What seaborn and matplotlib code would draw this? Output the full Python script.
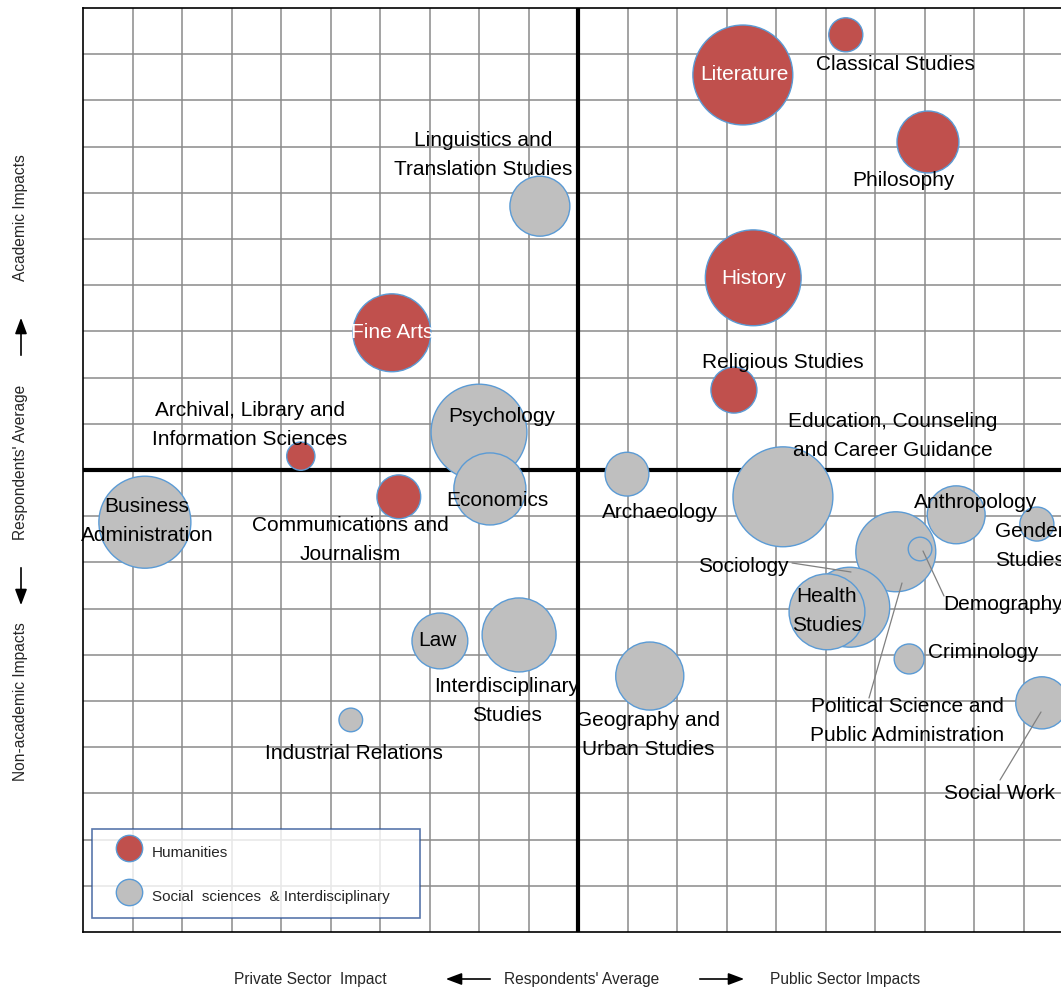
import matplotlib
matplotlib.use("Agg")
import matplotlib.pyplot as plt
from matplotlib.patches import FancyArrowPatch
from matplotlib.lines import Line2D
import seaborn as sns
import pandas as pd

# ---------------- data ----------------
fields = [
    "Literature", "Classical Studies", "Philosophy", "History", "Fine Arts",
    "Religious Studies", "Archival, Library and Information Sciences",
    "Communications and Journalism",
    "Linguistics and Translation Studies", "Psychology", "Economics",
    "Business Administration", "Archaeology",
    "Education, Counseling and Career Guidance", "Anthropology", "Gender Studies",
    "Political Science and Public Administration", "Demography", "Sociology",
    "Health Studies", "Criminology", "Social Work", "Law",
    "Interdisciplinary Studies", "Geography and Urban Studies",
    "Industrial Relations",
]
group = (["Humanities"] * 8) + (["Social sciences  & Interdisciplinary"] * 18)
public_vs_private = [13.33, 15.41, 17.07, 13.54, 6.24, 13.15, 4.40, 6.38,
                     9.23, 8.00, 8.22, 1.25, 10.99, 14.14, 17.64, 19.27,
                     16.42, 16.91, 15.49, 15.03, 16.69, 19.37, 7.21, 8.81,
                     11.45, 5.41]
academic_vs_non = [18.55, 19.42, 17.10, 14.16, 12.97, 11.73, 10.30, 9.42,
                   15.71, 10.82, 9.59, 8.87, 9.91, 9.42, 9.03, 8.83,
                   8.23, 8.29, 7.03, 6.93, 5.91, 4.96, 6.30, 6.43,
                   5.54, 4.59]
weight = [25.0, 2.9, 9.6, 23.0, 15.2, 5.3, 2.0, 4.8,
          9.0, 23.0, 13.0, 21.2, 4.8, 25.0, 8.4, 2.9,
          16.0, 1.4, 16.0, 14.4, 2.25, 6.8, 7.8, 13.7,
          11.6, 1.4]
average = 10.0
x_axis_words = ["Private Sector  Impact", "Respondents' Average", "Public Sector Impacts"]
y_axis_words = ["Academic Impacts", "Respondents' Average", "Non-academic Impacts"]

df = pd.DataFrame({"field": fields, "group": group,
                   "x": public_vs_private, "y": academic_vs_non, "w": weight})

# ---------------- style ----------------
sns.set_style("white")
plt.rcParams["font.family"] = ["Liberation Sans", "DejaVu Sans"]

RED = "#C0504D"
GRAY = "#BFBFBF"
EDGE = "#5B9BD5"
GRID = "#8A8A8A"

W, H = 1061, 988
fig = plt.figure(figsize=(W / 100, H / 100), dpi=100)
ax = fig.add_axes([83 / W, (H - 932) / H, 990 / W, 924 / H])
ax.set_xlim(0, 20)
ax.set_ylim(0, 20)

# grid
for i in range(1, 20):
    ax.axvline(i, color=GRID, lw=1.1, zorder=0)
    ax.axhline(i, color=GRID, lw=1.1, zorder=0)
ax.axvline(average, color="black", lw=3.0, zorder=1)
ax.axhline(average, color="black", lw=3.0, zorder=1)
ax.set_xticks([])
ax.set_yticks([])
for s in ax.spines.values():
    s.set_color("black")
    s.set_linewidth(1.2)

# bubbles: s (pt^2) proportional to weight
k = 207.0
wmin, wmax = min(weight), max(weight)
sns.scatterplot(data=df, x="x", y="y", hue="group", size="w",
                palette={"Humanities": RED, "Social sciences  & Interdisciplinary": GRAY},
                sizes=(k * wmin, k * wmax), size_norm=(wmin, wmax),
                edgecolor=EDGE, linewidth=1.0, alpha=1, legend=False, ax=ax, zorder=3)
ax.set_xlabel("")
ax.set_ylabel("")


def px(x, y):
    return ((x - 83) / 49.5, (932 - y) / 46.2)


FS = 15
labels = [
    ("Literature", 744, 75, "white"),
    ("Classical Studies", 895, 65, "black"),
    ("Philosophy", 903, 181, "black"),
    ("History", 754, 279, "white"),
    ("Fine Arts", 392, 333, "white"),
    ("Religious Studies", 783, 362, "black"),
    ("Archival, Library and\nInformation Sciences", 250, 425, "black"),
    ("Communications and\nJournalism", 350, 540, "black"),
    ("Linguistics and\nTranslation Studies", 483, 155, "black"),
    ("Psychology", 502, 416, "black"),
    ("Economics", 497, 500, "black"),
    ("Business\nAdministration", 147, 521, "black"),
    ("Archaeology", 660, 513, "black"),
    ("Education, Counseling\nand Career Guidance", 893, 436, "black"),
    ("Anthropology", 976, 502, "black"),
    ("Gender\nStudies", 1030, 546, "black"),
    ("Sociology", 743, 567, "black"),
    ("Health\nStudies", 827, 611, "black"),
    ("Demography", 1003, 604, "black"),
    ("Criminology", 983, 652, "black"),
    ("Political Science and\nPublic Administration", 907, 721, "black"),
    ("Social Work", 1000, 793, "black"),
    ("Law", 437, 641, "black"),
    ("Interdisciplinary\nStudies", 507, 701, "black"),
    ("Geography and\nUrban Studies", 648, 735, "black"),
    ("Industrial Relations", 354, 753, "black"),
]
for txt, lx, ly, c in labels:
    ax.text(*px(lx, ly), txt, ha="center", va="center", fontsize=FS, color=c,
            zorder=5, clip_on=False, linespacing=1.62)

leaders = [((792, 563), (851, 572)), ((944, 596), (923, 551)),
           ((869, 698), (902, 583)), ((1000, 780), (1041, 712))]
for (x0, y0), (x1, y1) in leaders:
    a, b = px(x0, y0), px(x1, y1)
    ax.plot([a[0], b[0]], [a[1], b[1]], color="#808080", lw=0.9, zorder=4)

# legend
handles = [Line2D([], [], marker="o", ls="", markersize=19, markerfacecolor=RED,
                  markeredgecolor=EDGE, markeredgewidth=1.0, label="Humanities"),
           Line2D([], [], marker="o", ls="", markersize=19, markerfacecolor=GRAY,
                  markeredgecolor=EDGE, markeredgewidth=1.0,
                  label="Social  sciences  & Interdisciplinary")]
leg = ax.legend(handles=handles, loc="lower left",
                bbox_to_anchor=(9 / 990, 14 / 924, 328 / 990, 88 / 924), mode="expand",
                borderaxespad=0, fancybox=False, frameon=True, fontsize=11,
                handlelength=3.4, handleheight=1.9, handletextpad=-0.2,
                labelspacing=1.4, borderpad=0.72)
leg.get_frame().set_edgecolor("#2F5597")
leg.get_frame().set_linewidth(1.2)
leg.set_zorder(6)

# axis direction texts
AFS = 11.2
ASTYLE = "-|>,head_length=0.8,head_width=0.3"
fy = (H - 979) / H
fig.text(310 / W, fy, x_axis_words[0], ha="center", va="center", fontsize=AFS)
fig.text(582 / W, fy, x_axis_words[1], ha="center", va="center", fontsize=AFS)
fig.text(845 / W, fy, x_axis_words[2], ha="center", va="center", fontsize=AFS)
for p0, p1 in [((493, 979), (443, 979)), ((697, 979), (747, 979)),
               ((21, 358), (21, 315)), ((21, 565), (21, 608))]:
    fig.add_artist(FancyArrowPatch((p0[0] / W, (H - p0[1]) / H), (p1[0] / W, (H - p1[1]) / H),
                   transform=fig.transFigure, arrowstyle=ASTYLE, color="black",
                   lw=1.2, mutation_scale=12))

fx = 21 / W
fig.text(fx, (H - 218) / H, y_axis_words[0], rotation=90, ha="center", va="center", fontsize=AFS)
fig.text(fx, (H - 462) / H, y_axis_words[1], rotation=90, ha="center", va="center", fontsize=AFS)
fig.text(fx, (H - 702) / H, y_axis_words[2], rotation=90, ha="center", va="center", fontsize=AFS)

fig.savefig("out.png", dpi=100)
